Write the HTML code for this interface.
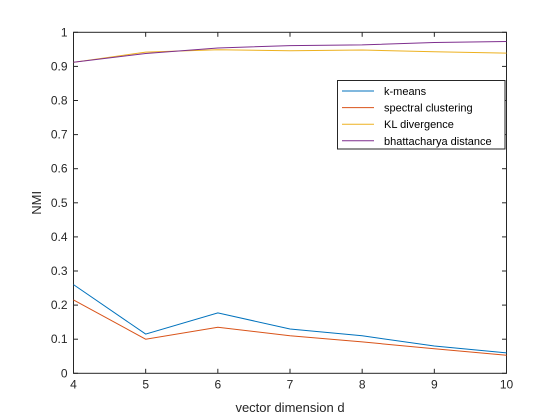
<!DOCTYPE html>
<html><head><meta charset="utf-8"><style>
body{margin:0;background:#fff}
svg{display:block;font-family:"Liberation Sans",Arial,sans-serif}
</style></head><body>
<svg id="chart" width="560" height="420" viewBox="0 0 560 420" xmlns="http://www.w3.org/2000/svg">
<rect x="0" y="0" width="560" height="420" fill="#fff"/>
<g id="plot"></g>
</svg>
<script>
const xValues = [4, 5, 6, 7, 8, 9, 10];
const kmeans = [0.26, 0.115, 0.177, 0.13, 0.11, 0.08, 0.06];
const spectral = [0.215, 0.10, 0.135, 0.11, 0.092, 0.072, 0.053];
const klDiv = [0.912, 0.942, 0.949, 0.946, 0.948, 0.943, 0.939];
const bhatt = [0.912, 0.938, 0.954, 0.961, 0.963, 0.970, 0.973];
const xTicks = [4, 5, 6, 7, 8, 9, 10];
const yTicks = [0, 0.1, 0.2, 0.3, 0.4, 0.5, 0.6, 0.7, 0.8, 0.9, 1];
const seriesNames = ["k-means", "spectral clustering", "KL divergence", "bhattacharya distance"];

const L = 73.5, R = 506.5, T = 32.3, B = 373.3;
const sx = v => L + (v - 4) / 6 * (R - L);
const sy = v => B - v * (B - T);
const NS = "http://www.w3.org/2000/svg";
const g = document.getElementById('plot');
function mk(tag, attrs, parent) {
  const e = document.createElementNS(NS, tag);
  for (const k in attrs) e.setAttribute(k, attrs[k]);
  (parent || g).appendChild(e);
  return e;
}
const axes = mk('rect', {x: L, y: T, width: R - L, height: B - T, fill: '#fff', stroke: '#262626', 'stroke-width': 1});



xTicks.forEach(t => {
  const x = sx(t);
  mk('line', {x1: x, x2: x, y1: B, y2: B - 4.5, stroke: '#262626'});
  mk('line', {x1: x, x2: x, y1: T, y2: T + 4.5, stroke: '#262626'});
  const tx = mk('text', {x: x, y: B + 15, 'text-anchor': 'middle', 'font-size': 12, fill: '#262626'});
  tx.textContent = t;
  
  
});
yTicks.forEach(t => {
  const y = sy(t);
  mk('line', {x1: L, x2: L + 4.5, y1: y, y2: y, stroke: '#262626'});
  mk('line', {x1: R, x2: R - 4.5, y1: y, y2: y, stroke: '#262626'});
  const ty = mk('text', {x: L - 6, y: y + 4, 'text-anchor': 'end', 'font-size': 12, fill: '#262626'});
  ty.textContent = String(t);
  
  
});

const xt = mk('text', {x: (L + R) / 2, y: 412, 'text-anchor': 'middle', 'font-size': 13, fill: '#262626'});
xt.textContent = 'vector dimension d';


const yt = mk('text', {x: 0, y: 0, 'text-anchor': 'middle', 'font-size': 13, fill: '#262626', transform: 'translate(41,' + ((T + B) / 2) + ') rotate(-90)'});
yt.textContent = 'NMI';



const colors = ['#0072BD', '#D95319', '#EDB120', '#7E2F8E'];
const data = [kmeans, spectral, klDiv, bhatt];
const seriesKeys = ['kmeans', 'spectral', 'kl', 'bhatt'];
data.forEach((arr, i) => {
  const pts = arr.map((v, j) => sx(xValues[j]) + ',' + sy(v)).join(' ');
  const pl = mk('polyline', {points: pts, fill: 'none', stroke: colors[i], 'stroke-width': 1});
  
  
});

const lg = mk('g', {});


mk('rect', {x: 337.5, y: 80.5, width: 167.5, height: 68.5, fill: '#fff', stroke: '#262626', 'stroke-width': 1}, lg);
seriesNames.forEach((n, i) => {
  const y = 91 + i * 16.6;
  const ln = mk('line', {x1: 342, x2: 374, y1: y, y2: y, stroke: colors[i]}, lg);
  
  
  const t = mk('text', {x: 384, y: y + 4, 'font-size': 11, fill: '#000'}, lg);
  t.textContent = n;
  
  
});
</script>
</body></html>
